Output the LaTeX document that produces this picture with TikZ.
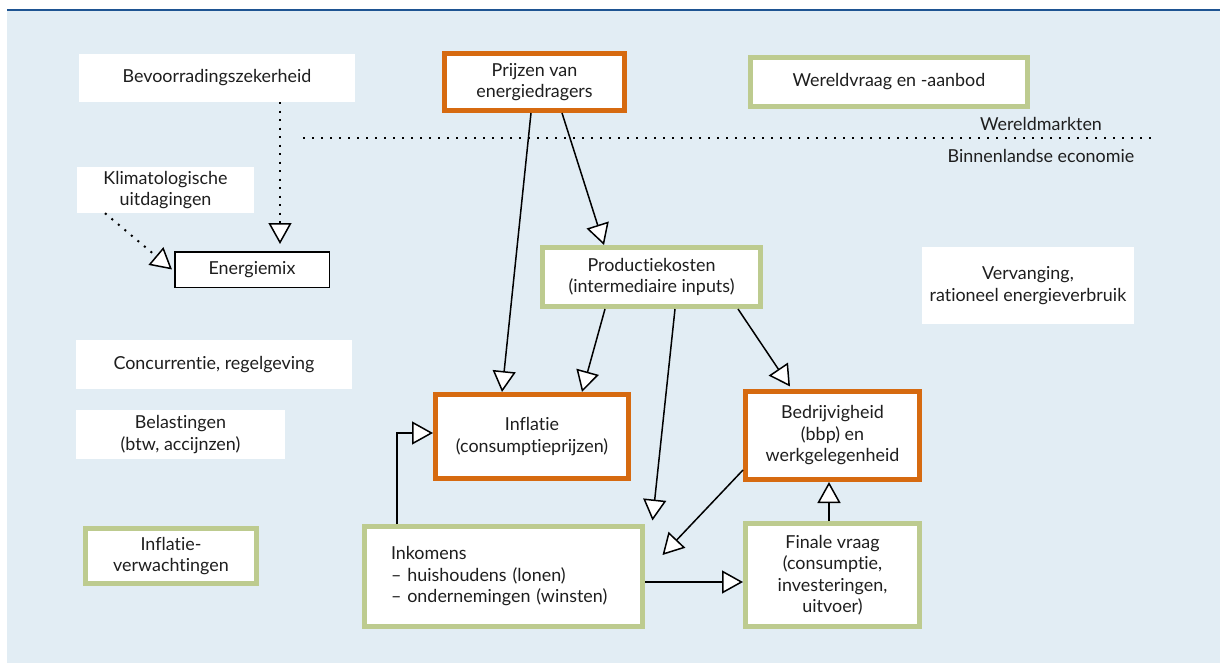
\documentclass[tikz,border=0pt]{standalone}
\usepackage{fontspec}
\setmainfont{Lato}[Ligatures=NoCommon]
\usetikzlibrary{arrows.meta,calc}
\definecolor{bgblue}{RGB}{226,237,244}
\definecolor{topblue}{RGB}{30,84,146}
\definecolor{boxorange}{RGB}{214,106,16}
\definecolor{boxgreen}{RGB}{189,203,143}
\definecolor{txt}{RGB}{30,30,30}
\tikzset{
  every node/.style={font=\fontsize{17.9}{21.5}\selectfont, text=txt, align=center, inner sep=0pt},
  plainbox/.style={fill=white},
  obox/.style={fill=white, draw=boxorange, line width=5pt},
  gbox/.style={fill=white, draw=boxgreen, line width=5pt},
  kbox/.style={fill=white, draw=black, line width=1.5pt},
  conn/.style={line width=1.5pt, -{Triangle[length=21pt,width=23pt,fill=white]}},
  dotconn/.style={line width=2pt, dash pattern=on 2pt off 6.5pt, -{Triangle[length=21pt,width=23pt,fill=white,line width=1.5pt]}},
  dotline/.style={line width=2pt, dash pattern=on 2pt off 7pt},
}
\begin{document}
\begin{tikzpicture}[x=1pt,y=-1pt]
\useasboundingbox (0,0) rectangle (1220,663);
\fill[bgblue] (7,10) rectangle (1220,663);
\draw[topblue, line width=2pt] (7,10) -- (1220,10);

% boxes
\node[plainbox, minimum width=276pt, minimum height=48pt] (bev) at (217,78) {Bevoorradingszekerheid};
\node[plainbox, minimum width=177pt, minimum height=46pt] (klim) at (165.5,190) {Klimatologische\\uitdagingen};
\node[kbox, minimum width=154.5pt, minimum height=35.5pt] (emix) at (252,269.5) {Energiemix};
\node[plainbox, minimum width=276pt, minimum height=49pt] (conc) at (214,364.5) {Concurrentie, regelgeving};
\node[plainbox, minimum width=209pt, minimum height=49pt] (bel) at (180.5,434.5) {Belastingen\\(btw, accijnzen)};
\node[gbox, minimum width=171pt, minimum height=55pt] (infv) at (171,556) {Inflatie-\\verwachtingen};
\node[obox, minimum width=180pt, minimum height=57pt] (prijzen) at (534.5,82) {Prijzen van\\energiedragers};
\node[gbox, minimum width=277pt, minimum height=49pt] (wereld) at (889,82) {Wereldvraag en -aanbod};
\node[plainbox, minimum width=212pt, minimum height=77pt] (verv) at (1028,285.5) {Vervanging,\\rationeel energieverbruik};
\node[gbox, minimum width=218pt, minimum height=59pt] (prod) at (651.5,277) {Productiekosten\\(intermediaire inputs)};
\node[obox, minimum width=193pt, minimum height=84pt] (infl) at (532,436.5) {Inflatie\\(consumptieprijzen)};
\node[obox, minimum width=174pt, minimum height=88pt] (bedr) at (832.5,435.5) {Bedrijvigheid\\(bbp) en\\werkgelegenheid};
\node[gbox, minimum width=174pt, minimum height=103pt] (fin) at (832.5,575) {Finale vraag\\(consumptie,\\investeringen,\\uitvoer)};
\node[gbox, minimum width=278pt, minimum height=100pt, text width=225pt, inner xsep=26.5pt, align=left] (ink) at (503.5,576.5) {Inkomens\\\textendash\ huishoudens (lonen)\\\textendash\ ondernemingen (winsten)};

% world / domestic divide
\node (wm) at (1041,124) {Wereldmarkten};
\node (be) at (1041,156) {Binnenlandse economie};
\coordinate (divL) at (303,138);
\coordinate (divR) at (1155,138);
\draw[dotline] (divL) -- (divR);

% connectors
\draw[dotconn] ([xshift=63pt]bev.south) -- ([xshift=28pt,yshift=7pt]emix.north);
\draw[dotconn] ([xshift=-60.5pt]klim.south) -- ([xshift=-2pt]emix.west);
\draw[conn] ([xshift=-3.5pt]prijzen.south) -- ([xshift=-30pt]infl.north);
\draw[conn] ([xshift=27.5pt]prijzen.south) -- ([xshift=-47.5pt]prod.north);
\draw[conn] ([xshift=-46.5pt]prod.south) -- ([xshift=50pt]infl.north);
\draw[conn] ([xshift=23.5pt]prod.south) -- ([xshift=7.5pt,yshift=3.5pt]ink.north east);
\draw[conn] ([xshift=86.5pt]prod.south) -- ([xshift=-42.5pt,yshift=2.5pt]bedr.north);
\draw[conn] ([yshift=-34.5pt]bedr.west) -- ([xshift=17.5pt,yshift=21.5pt]ink.east);
\draw[conn] ([yshift=-5.5pt]ink.east) -- ([yshift=-7pt]fin.west);
\draw[conn] ([xshift=-3.5pt]fin.north) -- ([xshift=-3.5pt]bedr.south);
\draw[conn] ([xshift=-106.5pt]ink.north) |- ([yshift=3.5pt]infl.west);
\end{tikzpicture}
\end{document}
